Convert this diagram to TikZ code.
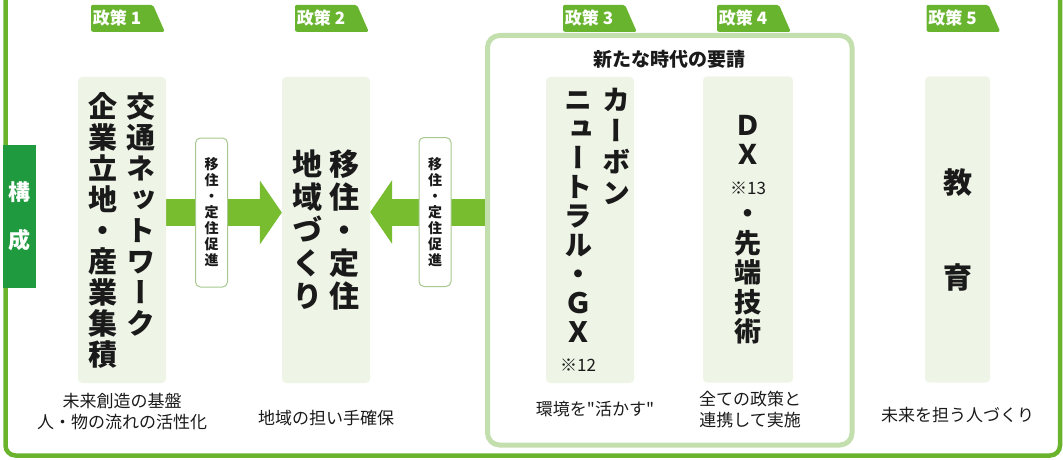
\documentclass[tikz,border=0pt]{standalone}
\usepackage{fontspec}
\usepackage{tikz}
\usetikzlibrary{shapes, shapes.geometric, arrows, arrows.meta, backgrounds}

\newfontfamily\jp{Noto Sans CJK JP}
\newfontfamily\jpv[RawFeature=+vert]{Noto Sans CJK JP}

\definecolor{frameGreen}{HTML}{6AB42D}
\definecolor{tabGreen}{HTML}{1F9A3E}
\definecolor{tagGreen}{HTML}{69B42F}
\definecolor{flowGreen}{HTML}{78BC30}
\definecolor{eraGreen}{HTML}{C3DFAE}
\definecolor{boxGreen}{HTML}{EEF4E6}
\definecolor{hintLine}{HTML}{A7C98F}
\definecolor{ink}{HTML}{1A1A1A}

% tategaki: one character per line
\def\tateend{\tateend}
\def\tateloop#1{\ifx\tateend#1\else\hbox to 1em{\hss#1\hss}\expandafter\tateloop\fi}
\newcommand{\tate}[1]{\vtop{\tateloop#1\tateend}}
\newcommand{\kome}[1]{{\mdseries\fontsize{17}{17}\selectfont ※#1}}

\begin{document}
\begin{tikzpicture}[
    x=1pt, y=-1pt,
    every node/.style={text=ink, inner sep=0pt},
    colBox/.style={fill=boxGreen, rounded corners=4pt, minimum width=88pt, minimum height=306pt, font=\jpv\bfseries},
    tag/.style={trapezium, trapezium left angle=90, trapezium right angle=66, trapezium stretches=true,
        minimum width=74pt, minimum height=27pt, fill=tagGreen, rounded corners=2pt,
        text=white, font=\jp\bfseries\fontsize{17}{17}\selectfont},
    hint/.style={draw=hintLine, line width=1pt, fill=white, rounded corners=5pt,
        minimum width=32pt, minimum height=149pt, font=\jpv\bfseries\fontsize{14}{16}\selectfont},
    caption/.style={align=center, font=\jp\fontsize{17}{21}\selectfont},
    flow/.style={draw=flowGreen, line width=27pt, -{Triangle[length=22pt, width=64pt, line width=0pt]}}
    ]
    \useasboundingbox (0,0) rectangle (1063,460);

    \draw[frameGreen, line width=4.5pt, rounded corners=10pt] (5.5,-20) -- (5.5,455.5) -- (1060,455.5) -- (1060,-20);
    \node[fill=tabGreen, minimum width=33pt, minimum height=143pt, text=white, align=center,
        font=\jp\bfseries\fontsize{22}{48}\selectfont] (kousei) at (19.5,216.5) {構\\成};

    \node[draw=eraGreen, line width=5pt, rounded corners=12pt, minimum width=364.5pt, minimum height=409.5pt] (era) at (669.75,240.25) {};
    \node[font=\jp\bfseries\fontsize{19}{19}\selectfont, yshift=-26.5pt] (eraTitle) at (era.north) {新たな時代の要請};

    \node[colBox] (col1) at (122,230) {\fontsize{29}{31}\selectfont\tate{企業立地・産業集積}\hspace{9pt}\tate{交通ネットワーク}};
    \node[colBox] (col2) at (326,230) {\fontsize{30}{33}\selectfont\tate{地域づくり}\hspace{7pt}\tate{移住・定住}};
    \node[colBox] (col3) at (590,230) {\hspace*{14pt}\fontsize{28}{29}\selectfont\tate{ニュートラル・ＧＸ{\kome{12}}}\hspace{10pt}{\baselineskip=31pt\tate{カーボン}}};
    \node[colBox, minimum width=90pt] (col4) at (748,229.5) {\fontsize{27}{29.5}\selectfont\tate{ＤＸ{\kome{13}}・先端技術}};
    \node[colBox, minimum width=65pt] (col5) at (957.5,229.5) {\fontsize{29}{95}\selectfont\tate{教育}};

    \node[tag, yshift=58.5pt] (tag1) at (col1.north) {\hspace*{-10pt}政策 1};
    \node[tag, yshift=58.5pt] (tag2) at (col2.north) {\hspace*{-10pt}政策 2};
    \node[tag, xshift=4pt, yshift=58.5pt] (tag3) at (col3.north) {\hspace*{-10pt}政策 3};
    \node[tag, yshift=58pt] (tag4) at (col4.north) {\hspace*{-10pt}政策 4};
    \node[tag, yshift=58pt] (tag5) at (col5.north) {\hspace*{-10pt}政策 5};

    \node[hint] (hint1) at (211.5,212.5) {\tate{移住・定住促進}};
    \node[hint] (hint2) at (435,212) {\tate{移住・定住促進}};

    \begin{scope}[on background layer]
        \draw[flow] (col1.east |- hint1) -- (col2.west |- hint1);
        \draw[flow] (era.west |- hint2) -- (col2.east |- hint2);
    \end{scope}

    \node[caption, yshift=-28pt] (cap1) at (col1.south) {未来創造の基盤\\人・物の流れの活性化};
    \node[caption, yshift=-35pt] (cap2) at (col2.south) {地域の担い手確保};
    \node[caption, xshift=5pt, yshift=-26pt] (cap3) at (col3.south) {環境を"活かす"};
    \node[caption, xshift=2pt, yshift=-26.5pt] (cap4) at (col4.south) {全ての政策と\\連携して実施};
    \node[caption, yshift=-32pt] (cap5) at (col5.south) {未来を担う人づくり};
\end{tikzpicture}
\end{document}
